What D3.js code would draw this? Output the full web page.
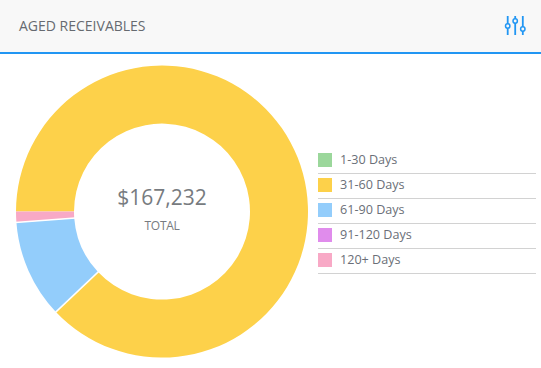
<!DOCTYPE html>
<html>
<head>
<meta charset="utf-8">
<script src="https://cdn.jsdelivr.net/npm/d3@7"></script>
<style>
  html, body { margin: 0; padding: 0; background: #fff; }
  svg { display: block; font-family: "Open Sans", sans-serif; }
</style>
</head>
<body>
<div id="chart"></div>
<script>
// Chart data
const categories = ["1-30 Days", "31-60 Days", "61-90 Days", "91-120 Days", "120+ Days"];
const amounts = [0, 147072, 18163, 0, 1997];
const colors = ["#9bd79b", "#fdd14a", "#93cdfb", "#e08cec", "#f8a9c6"];
const totalLabel = "$167,232";

const width = 541;
const height = 368;

const svg = d3.select("#chart").append("svg")
  .attr("width", width)
  .attr("height", height);

// Header
svg.append("rect").attr("width", width).attr("height", 52).attr("fill", "#f8f8f8");
svg.append("rect").attr("y", 52).attr("width", width).attr("height", 2).attr("fill", "#2196f3");
svg.append("text")
  .attr("x", 19).attr("y", 31)
  .attr("font-size", 14).attr("fill", "#666a70")
  .text("AGED RECEIVABLES");

// Settings icon in the header
const sliders = [[507.7, 26], [515.2, 21], [522.8, 29]];
const icon = svg.append("g");
sliders.forEach(([x, y]) => {
  icon.append("line").attr("x1", x).attr("x2", x).attr("y1", 16).attr("y2", 35)
    .attr("stroke", "#2196f3").attr("stroke-width", 1.8);
  icon.append("circle").attr("cx", x).attr("cy", y).attr("r", 2.2)
    .attr("fill", "#f8f8f8").attr("stroke", "#2196f3").attr("stroke-width", 1.5);
});

// Donut
const innerRadius = 88;
const outerRadius = 146;

const pie = d3.pie()
  .sort(null)
  .startAngle(-Math.PI / 2)
  .endAngle(Math.PI * 1.5)
  .value((d) => d.value);

const arc = d3.arc().innerRadius(innerRadius).outerRadius(outerRadius);

const rows = categories.map((name, i) => ({ name, value: amounts[i], color: colors[i] }));
const slices = pie(rows).filter((d) => d.value > 0);

const donut = svg.append("g").attr("transform", "translate(162,211.6)");

donut.selectAll("path")
  .data(slices)
  .join("path")
  .attr("d", arc)
  .attr("fill", (d) => d.data.color);

// White gaps only between neighbours, none where the last slice meets the first
donut.selectAll("line")
  .data(slices.slice(1))
  .join("line")
  .attr("x1", (d) => d3.pointRadial(d.startAngle, innerRadius - 1)[0])
  .attr("y1", (d) => d3.pointRadial(d.startAngle, innerRadius - 1)[1])
  .attr("x2", (d) => d3.pointRadial(d.startAngle, outerRadius + 1)[0])
  .attr("y2", (d) => d3.pointRadial(d.startAngle, outerRadius + 1)[1])
  .attr("stroke", "#fff")
  .attr("stroke-width", 1.5);

donut.append("text")
  .attr("text-anchor", "middle").attr("y", -7)
  .attr("font-size", 21).attr("fill", "#777b80")
  .text(totalLabel);

donut.append("text")
  .attr("text-anchor", "middle").attr("y", 18.4)
  .attr("font-size", 12).attr("fill", "#777b80")
  .attr("letter-spacing", "-0.3")
  .text("TOTAL");

// Legend
const rowY = d3.scaleBand().domain(categories).range([148, 273]);

const legend = svg.append("g").selectAll("g")
  .data(rows)
  .join("g")
  .attr("transform", (d) => `translate(318,${rowY(d.name)})`);

legend.append("rect")
  .attr("y", 5).attr("width", 14).attr("height", 14)
  .attr("fill", (d) => d.color);

legend.append("text")
  .attr("x", 22).attr("y", 16)
  .attr("font-size", 12.6).attr("fill", "#6b6f78")
  .text((d) => d.name);

legend.append("line")
  .attr("x1", 0).attr("x2", 218)
  .attr("y1", 25.5).attr("y2", 25.5)
  .attr("stroke", "#d2d2d2");
</script>
</body>
</html>
